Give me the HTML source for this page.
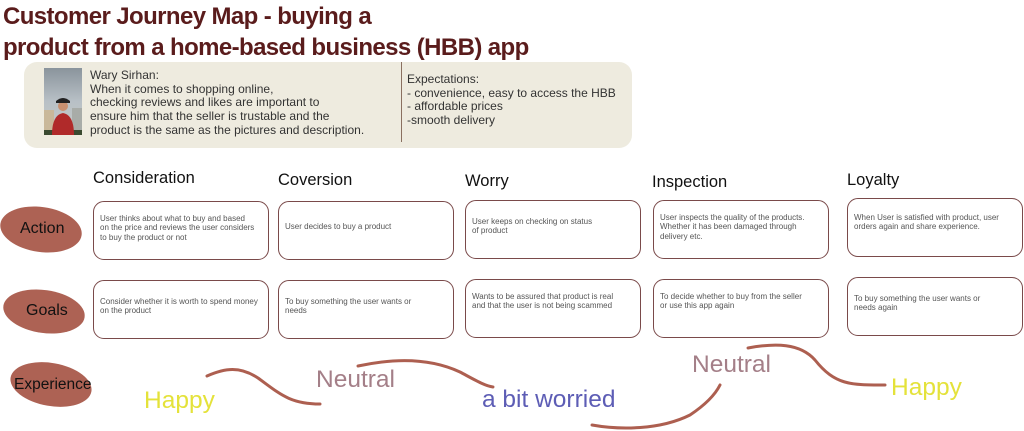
<!DOCTYPE html>
<html><head><meta charset="utf-8"><style>
*{margin:0;padding:0;box-sizing:border-box}
body{width:1024px;height:431px;background:#fff;position:relative;overflow:hidden;font-family:"Liberation Sans",sans-serif}
.a{position:absolute}
.title{left:3px;top:1px;font-size:24px;font-weight:bold;color:#5a1c1c;line-height:31px;letter-spacing:-0.6px}
.panel{left:24px;top:62px;width:608px;height:86px;background:#eeebdf;border-radius:13px}
.ptxt{font-size:12px;color:#333;line-height:13.7px}
.box{border:1.3px solid #7a4a4a;border-radius:11px;background:#fff;font-size:8px;color:#555;line-height:9.3px;padding:16px 6px 0 6px}
.hd{font-size:16.5px;color:#111}
.ell{background:#ad6254;border-radius:50%}
.lbl{font-size:16px;color:#111}
.exp{font-size:24.5px}
</style></head><body>
<div class="a title">Customer Journey Map - buying a<br>product from a home-based business (HBB) app</div>
<div class="a panel"></div>
<svg class="a" style="left:44px;top:68px" width="38" height="67" viewBox="0 0 38 67">
<defs><linearGradient id="sk" x1="0" y1="0" x2="0" y2="1"><stop offset="0" stop-color="#8a949c"/><stop offset="0.5" stop-color="#b8c0c6"/><stop offset="1" stop-color="#c8ccc8"/></linearGradient></defs>
<rect width="38" height="67" fill="url(#sk)"/>
<rect x="0" y="42" width="10" height="20" fill="#c9b89a"/>
<rect x="28" y="40" width="10" height="22" fill="#a8aca8"/>
<rect x="0" y="62" width="38" height="5" fill="#3a4a30"/>
<circle cx="19" cy="38" r="5" fill="#c89070"/>
<path d="M12 33 q7 -6 14 0 v2 h-14z" fill="#222"/>
<path d="M8 67 q0 -20 11 -22 q11 2 11 22z" fill="#b02a2a"/>
</svg>
<div class="a ptxt" style="left:90px;top:69px">Wary Sirhan:<br>When it comes to shopping online,<br>checking reviews and likes are important to<br>ensure him that the seller is trustable and the<br>product is the same as the pictures and description.</div>
<div class="a" style="left:401px;top:62px;width:1px;height:80px;background:#8a7060"></div>
<div class="a ptxt" style="left:407px;top:73px">Expectations:<br>- convenience, easy to access the HBB<br>- affordable prices<br>-smooth delivery</div>

<div class="a hd" style="left:93px;top:169px">Consideration</div>
<div class="a hd" style="left:278px;top:171px">Coversion</div>
<div class="a hd" style="left:465px;top:172px">Worry</div>
<div class="a hd" style="left:652px;top:173px">Inspection</div>
<div class="a hd" style="left:847px;top:171px">Loyalty</div>

<div class="a box" style="left:93px;top:201px;width:176px;height:59px;padding-top:12px">User thinks about what to buy and based<br>on the price and reviews the user considers<br>to buy the product or not</div>
<div class="a box" style="left:278px;top:201px;width:176px;height:59px;padding-top:20px">User decides to buy a product</div>
<div class="a box" style="left:465px;top:200px;width:176px;height:59px;padding-top:16px">User keeps on checking on status<br>of product</div>
<div class="a box" style="left:653px;top:200px;width:176px;height:59px;padding-top:12px">User inspects the quality of the products.<br>Whether it has been damaged through<br>delivery etc.</div>
<div class="a box" style="left:847px;top:198px;width:176px;height:59px;padding-top:14px">When User is satisfied with product, user<br>orders again and share experience.</div>

<div class="a box" style="left:93px;top:280px;width:176px;height:59px;padding-top:16px">Consider whether it is worth to spend money<br>on the product</div>
<div class="a box" style="left:278px;top:280px;width:176px;height:59px;padding-top:16px">To buy something the user wants or<br>needs</div>
<div class="a box" style="left:465px;top:279px;width:176px;height:59px;padding-top:12px">Wants to be assured that product is real<br>and that the user is not being scammed</div>
<div class="a box" style="left:653px;top:279px;width:176px;height:59px;padding-top:12px">To decide whether to buy from the seller<br>or use this app again</div>
<div class="a box" style="left:847px;top:277px;width:176px;height:59px;padding-top:16px">To buy something the user wants or<br>needs again</div>

<div class="a ell" style="left:0px;top:207px;width:82px;height:45px;transform:rotate(8deg)"></div>
<div class="a lbl" style="left:20px;top:220px">Action</div>
<div class="a ell" style="left:3px;top:290px;width:82px;height:43px;transform:rotate(8deg)"></div>
<div class="a lbl" style="left:26px;top:302px">Goals</div>
<div class="a ell" style="left:10px;top:363px;width:82px;height:43px;transform:rotate(10deg)"></div>
<div class="a lbl" style="left:14px;top:376px;font-size:15.5px">Experience</div>

<svg class="a" style="left:0;top:0" width="1024" height="431">
<g fill="none" stroke="#ad5f50" stroke-width="3" stroke-linecap="round">
<path d="M207 376 C225 368 240 366 258 378 C280 394 290 404 320 404"/>
<path d="M358 366 C395 358 430 358 460 372 C475 380 485 386 493 387"/>
<path d="M592 425 C620 430 660 430 690 415 C705 405 715 395 720 385"/>
<path d="M748 348 C775 343 800 343 815 360 C835 385 850 385 885 385"/>
</g></svg>

<div class="a exp" style="left:144px;top:387px;color:#e4e23a">Happy</div>
<div class="a exp" style="left:316px;top:366px;color:#a47f88">Neutral</div>
<div class="a exp" style="left:482px;top:386px;color:#5d5db5">a bit worried</div>
<div class="a exp" style="left:692px;top:351px;color:#a47f88">Neutral</div>
<div class="a exp" style="left:891px;top:374px;color:#e4e23a">Happy</div>
</body></html>
